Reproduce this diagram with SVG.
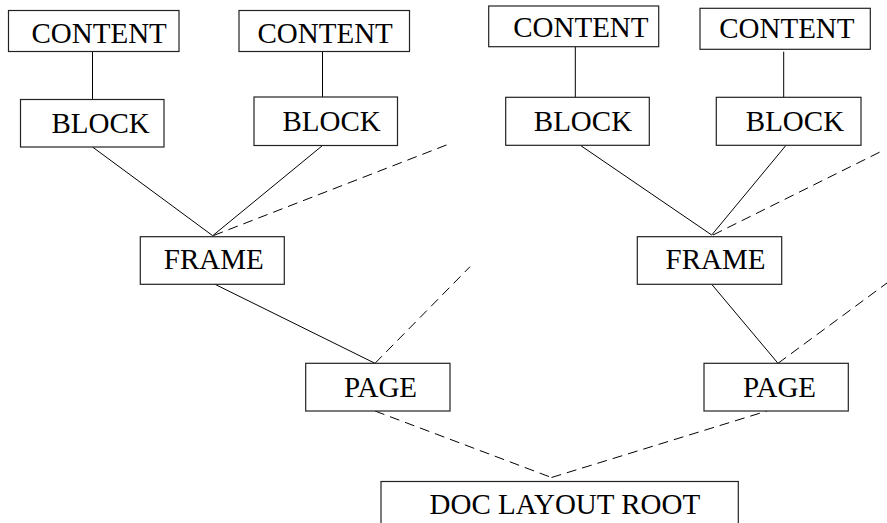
<svg xmlns="http://www.w3.org/2000/svg" width="887" height="523" viewBox="0 0 887 523">
  <style>
    .box { fill: #fff; stroke: #222; stroke-width: 1.2; }
    .lbl { font-family: "Liberation Serif", "Times New Roman", serif; font-size: 29px; fill: #000; }
    .solid { stroke: #000; stroke-width: 1; fill: none; }
    .dash { stroke: #000; stroke-width: 1; fill: none; stroke-dasharray: 10 6; }
  </style>
  <rect width="887" height="523" fill="#fff"/>

  <!-- tree edges: solid = parent/child, dashed = further siblings -->
  <g id="connectors">
    <line class="solid" x1="92.5" y1="51.5" x2="92.5" y2="99.5"/>
    <line class="solid" x1="322.5" y1="51.5" x2="322.5" y2="97"/>
    <line class="solid" x1="575.3" y1="46.7" x2="575.3" y2="97.3"/>
    <line class="solid" x1="783.7" y1="51.7" x2="783.7" y2="97.3"/>

    <line class="solid" x1="92.5" y1="147" x2="212.7" y2="235.7"/>
    <line class="solid" x1="322.5" y1="145.5" x2="212.7" y2="235.7"/>
    <line class="dash" x1="213.5" y1="235.5" x2="449" y2="144"/>

    <line class="solid" x1="580.3" y1="145.3" x2="711.7" y2="235"/>
    <line class="solid" x1="786" y1="145.3" x2="711.7" y2="235"/>
    <line class="dash" x1="713" y1="235" x2="884" y2="150"/>

    <line class="solid" x1="215" y1="284.3" x2="375" y2="363.3"/>
    <line class="dash" x1="375" y1="363.3" x2="470" y2="266.7"/>

    <line class="solid" x1="711.7" y1="284.3" x2="778" y2="363.3"/>
    <line class="dash" x1="778" y1="363.3" x2="887" y2="283"/>

    <line class="dash" x1="375" y1="411" x2="551.5" y2="477.5"/>
    <line class="dash" x1="551.5" y1="477.5" x2="767" y2="411"/>
  </g>

  <g id="content1"><rect class="box" x="8.5" y="10.5" width="170.5" height="41"/><text class="lbl" x="31.5" y="42.7">CONTENT</text></g>
  <g id="content2"><rect class="box" x="239" y="10.5" width="170.5" height="41"/><text class="lbl" x="257.5" y="42.7">CONTENT</text></g>
  <g id="content3"><rect class="box" x="488.7" y="6" width="170" height="40.7"/><text class="lbl" x="513.2" y="36.7">CONTENT</text></g>
  <g id="content4"><rect class="box" x="700" y="8.3" width="170.3" height="41"/><text class="lbl" x="719.2" y="38.3">CONTENT</text></g>

  <g id="block1"><rect class="box" x="20.5" y="99.5" width="143.5" height="47.5"/><text class="lbl" x="51.5" y="133">BLOCK</text></g>
  <g id="block2"><rect class="box" x="254" y="97" width="143.5" height="48.5"/><text class="lbl" x="282.5" y="130.7">BLOCK</text></g>
  <g id="block3"><rect class="box" x="505.7" y="97.3" width="143.6" height="48"/><text class="lbl" x="533.8" y="130.7">BLOCK</text></g>
  <g id="block4"><rect class="box" x="716.3" y="97.3" width="144.7" height="48"/><text class="lbl" x="745.8" y="130.7">BLOCK</text></g>

  <g id="frame1"><rect class="box" x="140.3" y="236.7" width="144" height="47.6"/><text class="lbl" x="163.8" y="269.3">FRAME</text></g>
  <g id="frame2"><rect class="box" x="637.3" y="236.7" width="144.4" height="47.6"/><text class="lbl" x="665.5" y="269.3">FRAME</text></g>

  <g id="page1"><rect class="box" x="305.7" y="363.3" width="144.3" height="47.7"/><text class="lbl" x="344" y="396.7">PAGE</text></g>
  <g id="page2"><rect class="box" x="704" y="363.3" width="144.3" height="47.7"/><text class="lbl" x="743" y="396.7">PAGE</text></g>

  <g id="doc-layout-root"><rect class="box" x="381" y="481.5" width="357.3" height="60"/><text class="lbl" x="429.5" y="514">DOC LAYOUT ROOT</text></g>
</svg>
